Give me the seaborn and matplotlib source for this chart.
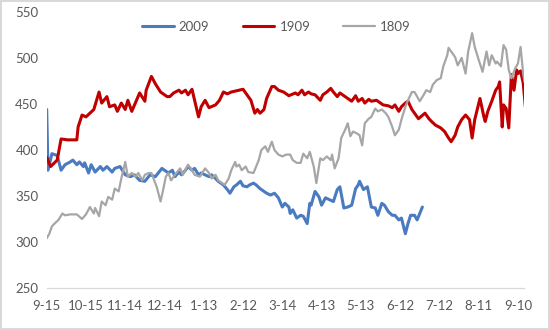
import pandas as pd
import seaborn as sns
import matplotlib.pyplot as plt

# series: day offset from 9-15 and price
start = pd.Timestamp('2018-09-15')

days_2009 = [0, 1, 4, 8, 11, 14, 18, 20, 23, 25, 28, 29, 32, 34, 37, 41, 43, 46, 50, 52,
             56, 60, 64, 67, 71, 75, 79, 83, 88, 93, 96, 98, 101, 103, 106, 108, 111, 113, 116, 118,
             121, 124, 126, 129, 131, 135, 138, 140, 143, 145, 148, 150, 153, 155, 158, 160, 163, 166, 168, 171,
             174, 177, 180, 182, 185, 186, 188, 191, 194, 196, 199, 201, 202, 205, 208, 210, 213, 216, 219, 222,
             224, 227, 230, 233, 236, 238, 239, 242, 245, 248, 251, 253, 256, 258, 261, 264, 266, 269, 271, 274,
             276, 278, 281, 283, 287]
vals_2009 = [444, 378, 396, 394, 378, 384, 387, 389, 384, 387, 382, 386, 375, 384, 376, 382, 378, 382, 376, 380,
             382, 373, 371, 373, 367, 366, 373, 371, 380, 375, 378, 371, 376, 373, 378, 382, 378, 380, 373, 375,
             373, 371, 373, 369, 366, 362, 357, 353, 360, 362, 366, 361, 360, 362, 364, 362, 358, 355, 353, 351,
             353, 348, 338, 342, 338, 331, 335, 326, 329, 328, 320, 342, 340, 355, 349, 340, 348, 346, 344, 357,
             360, 337, 338, 340, 358, 362, 366, 357, 360, 338, 337, 329, 342, 340, 333, 329, 329, 324, 326, 309,
             320, 329, 329, 324, 338]

days_1909 = [0, 3, 8, 11, 16, 23, 24, 27, 30, 33, 36, 40, 42, 46, 48, 52, 54, 57, 60, 62,
             65, 71, 75, 76, 80, 83, 87, 92, 94, 97, 101, 103, 106, 108, 111, 116, 118, 121, 124, 129,
             132, 135, 138, 141, 150, 153, 156, 159, 161, 163, 166, 168, 172, 174, 177, 181, 185, 190, 192, 195,
             197, 200, 202, 205, 209, 211, 214, 217, 219, 222, 224, 227, 230, 233, 236, 238, 241, 243, 246, 248,
             252, 255, 257, 261, 264, 266, 269, 271, 274, 276, 279, 281, 284, 289, 292, 294, 297, 301, 304, 307,
             309, 312, 314, 317, 320, 323, 325, 327, 331, 334, 335, 337, 340, 343, 345, 346, 348, 349, 351, 353,
             355, 357, 359, 360, 362, 364, 366]
vals_1909 = [392, 382, 389, 412, 411, 411, 425, 438, 436, 440, 444, 463, 451, 458, 447, 449, 442, 451, 444, 454,
             442, 462, 453, 465, 480, 472, 463, 458, 458, 462, 465, 462, 465, 460, 466, 436, 447, 454, 446, 449,
             454, 463, 461, 463, 466, 460, 454, 440, 444, 440, 444, 456, 469, 469, 465, 463, 459, 462, 460, 465,
             460, 463, 461, 460, 454, 460, 463, 467, 463, 458, 462, 459, 456, 453, 459, 453, 456, 451, 455, 453,
             454, 451, 449, 448, 446, 449, 442, 447, 451, 453, 444, 440, 434, 440, 434, 431, 427, 424, 420, 413,
             409, 416, 425, 433, 438, 433, 413, 433, 456, 436, 431, 442, 453, 465, 469, 474, 425, 449, 445, 424,
             482, 465, 487, 483, 486, 473, 442]

days_1809 = [0, 2, 4, 6, 9, 12, 14, 18, 23, 27, 30, 33, 36, 37, 40, 42, 45, 47, 50, 52,
             55, 57, 60, 62, 65, 68, 70, 73, 75, 78, 80, 84, 87, 89, 91, 93, 95, 99, 102, 104,
             108, 111, 113, 117, 121, 124, 126, 129, 131, 134, 136, 139, 141, 144, 145, 147, 149, 152, 154, 158,
             162, 164, 167, 169, 172, 174, 177, 180, 183, 186, 188, 191, 194, 196, 199, 201, 204, 206, 209, 211,
             214, 217, 218, 220, 223, 225, 228, 230, 232, 234, 237, 239, 241, 243, 246, 248, 251, 253, 256, 259,
             261, 264, 266, 269, 271, 274, 276, 279, 281, 283, 285, 288, 290, 293, 295, 298, 301, 303, 306, 307,
             309, 312, 314, 317, 320, 322, 325, 327, 330, 333, 336, 338, 340, 343, 344, 347, 349, 351, 353, 355,
             358, 360, 362, 364, 365]
vals_1809 = [304, 309, 317, 320, 324, 331, 329, 330, 330, 325, 330, 338, 331, 337, 328, 344, 340, 349, 346, 358,
             355, 369, 387, 371, 375, 371, 375, 367, 373, 375, 375, 360, 344, 357, 371, 375, 367, 375, 380, 373,
             384, 378, 373, 371, 380, 375, 369, 373, 367, 364, 362, 369, 378, 387, 382, 384, 378, 382, 376, 375,
             389, 400, 404, 398, 409, 400, 395, 393, 395, 395, 389, 386, 386, 396, 391, 398, 382, 364, 391, 389,
             393, 389, 395, 380, 391, 413, 422, 429, 415, 420, 418, 416, 405, 429, 434, 436, 445, 442, 444, 440,
             436, 425, 416, 422, 433, 447, 454, 463, 463, 458, 453, 460, 465, 463, 471, 476, 478, 491, 503, 511,
             507, 501, 492, 500, 483, 507, 527, 512, 498, 485, 507, 492, 503, 494, 496, 491, 514, 509, 487, 478,
             489, 494, 512, 483, 474]

tick_labels = ['9-15', '10-15', '11-14', '12-14', '1-13', '2-12', '3-14',
               '4-13', '5-13', '6-12', '7-12', '8-11', '9-10']

sns.set_style('white')
plt.rcParams['font.family'] = ['Lato', 'DejaVu Sans']

fig = plt.figure(figsize=(5.5, 3.3), dpi=100)
fig.patch.set_edgecolor('#D9D9D9')
fig.patch.set_linewidth(1.5)
ax = fig.add_axes([0.0849, 0.1273, 0.8687, 0.8364])

def to_dates(days):
    return start + pd.to_timedelta(days, unit='D')

sns.lineplot(x=to_dates(days_2009), y=vals_2009, color='#4A7BC0', linewidth=2.2, label='2009', ax=ax)
sns.lineplot(x=to_dates(days_1909), y=vals_1909, color='#C00000', linewidth=2.2, label='1909', ax=ax)
sns.lineplot(x=to_dates(days_1809), y=vals_1809, color='#A6A6A6', linewidth=1.6, label='1809', ax=ax)

ax.set_xlim(start, start + pd.Timedelta(days=365))
ax.set_ylim(250, 550)
ax.set_yticks(range(250, 551, 50))
ax.set_xticks(pd.date_range(start, periods=len(tick_labels), freq='30D'))
ax.set_xticklabels(tick_labels)
ax.set_xlabel('')
ax.set_ylabel('')

for side in ['left', 'right', 'top']:
    ax.spines[side].set_visible(False)
ax.spines['bottom'].set_color('#D9D9D9')
ax.spines['bottom'].set_linewidth(0.9)
ax.tick_params(axis='both', length=0, labelcolor='#595959', labelsize=9.5)
ax.tick_params(axis='x', pad=9)
ax.tick_params(axis='y', pad=6)

ax.legend(loc='center', bbox_to_anchor=(276.5 / 550, 1 - 27 / 330), bbox_transform=fig.transFigure,
          ncol=3, frameon=False, fontsize=9.5, labelcolor='#595959',
          handlelength=2.4, handletextpad=0.4, columnspacing=2.5)

fig.savefig('out.png', dpi=100, edgecolor=fig.get_edgecolor())
